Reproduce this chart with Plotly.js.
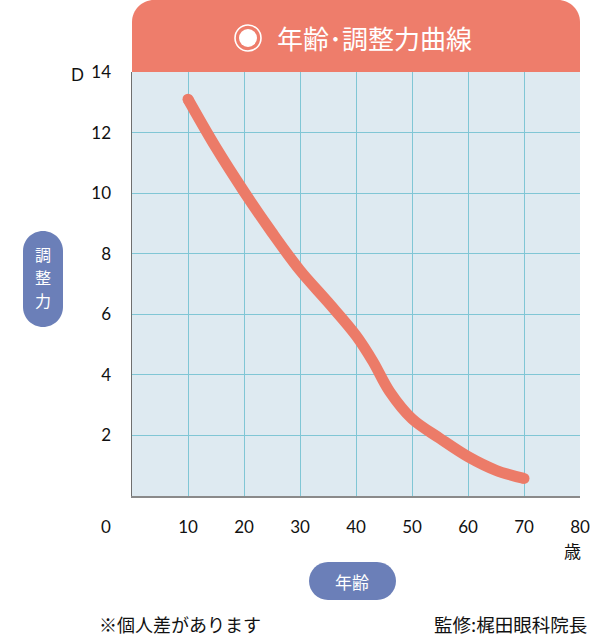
<!DOCTYPE html>
<html>
<head>
<meta charset="utf-8">
<script src="https://cdn.plot.ly/plotly-3.0.1.min.js"></script>
<style>html,body{margin:0;padding:0;background:#fff;}#chart{width:616px;height:638px;}</style>
</head>
<body>
<div id="chart"></div>
<script>
// Data
var ages = [10, 15, 20, 25, 30, 35, 40, 43, 46, 50, 55, 60, 65, 70];
var power = [13.1, 11.5, 10.05, 8.7, 7.45, 6.4, 5.3, 4.45, 3.45, 2.55, 1.9, 1.3, 0.85, 0.58];
var xTicks = [10, 20, 30, 40, 50, 60, 70, 80];
var yTicks = [2, 4, 6, 8, 10, 12, 14];
var titleText = '年齢･調整力曲線';
var yLabelChars = ['調', '整', '力'];
var xLabel = '年齢';
var yUnit = 'D';
var xUnit = '歳';
var originLabel = '0';
var noteLeft = '※個人差があります';
var noteRight = '監修:梶田眼科院長';

// Plot-area geometry (pixels) used only for decorations
var W = 616, H = 638;
var L = 132, R = 580, T = 72, B = 496;
function px(p){ return (p - L) / (R - L); }
function py(p){ return (B - p) / (B - T); }

function roundRectPath(x0, y0, x1, y1, r, topOnly){
  var k = 0.5523 * r;
  var s = '';
  s += 'M ' + px(x0) + ',' + py(y1 - (topOnly ? 0 : r));
  s += ' L ' + px(x0) + ',' + py(y0 + r);
  s += ' C ' + px(x0) + ',' + py(y0 + r - k) + ' ' + px(x0 + r - k) + ',' + py(y0) + ' ' + px(x0 + r) + ',' + py(y0);
  s += ' L ' + px(x1 - r) + ',' + py(y0);
  s += ' C ' + px(x1 - r + k) + ',' + py(y0) + ' ' + px(x1) + ',' + py(y0 + r - k) + ' ' + px(x1) + ',' + py(y0 + r);
  if (topOnly) {
    s += ' L ' + px(x1) + ',' + py(y1);
  } else {
    s += ' L ' + px(x1) + ',' + py(y1 - r);
    s += ' C ' + px(x1) + ',' + py(y1 - r + k) + ' ' + px(x1 - r + k) + ',' + py(y1) + ' ' + px(x1 - r) + ',' + py(y1);
    s += ' L ' + px(x0 + r) + ',' + py(y1);
    s += ' C ' + px(x0 + r - k) + ',' + py(y1) + ' ' + px(x0) + ',' + py(y1 - r + k) + ' ' + px(x0) + ',' + py(y1 - r);
  }
  s += ' Z';
  return s;
}

var coral = '#EE7D6B';
var pill = '#6B7FB8';
var jp = '"Noto Sans CJK JP", sans-serif';
var num = 'Lato, "Noto Sans CJK JP", sans-serif';
var ink = '#111111';

var traces = [
  {
    x: ages, y: power, type: 'scatter', mode: 'lines',
    line: {color: '#EC7B68', width: 11, shape: 'spline', smoothing: 1},
    hoverinfo: 'skip', showlegend: false
  },
  {
    x: [ages[0], ages[ages.length - 1]], y: [power[0], power[power.length - 1]],
    type: 'scatter', mode: 'markers',
    marker: {color: '#EC7B68', size: 11},
    hoverinfo: 'skip', showlegend: false
  }
];

var shapes = [
  {type: 'path', xref: 'paper', yref: 'paper', path: roundRectPath(L, 0, R, T, 22, true),
   fillcolor: coral, line: {width: 0}, layer: 'above'},
  {type: 'circle', xref: 'paper', yref: 'paper', x0: px(235), x1: px(261), y0: py(51), y1: py(25),
   fillcolor: 'rgba(0,0,0,0)', line: {color: '#ffffff', width: 1.6}},
  {type: 'circle', xref: 'paper', yref: 'paper', x0: px(239), x1: px(257), y0: py(47), y1: py(29),
   fillcolor: '#ffffff', line: {width: 0}},
  {type: 'path', xref: 'paper', yref: 'paper', path: roundRectPath(23, 231, 63, 327, 20, false),
   fillcolor: pill, line: {width: 0}},
  {type: 'path', xref: 'paper', yref: 'paper', path: roundRectPath(309, 562, 396, 600, 19, false),
   fillcolor: pill, line: {width: 0}}
];

function ann(text, x, y, size, color, xanchor, family, yanchor){
  return {text: text, xref: 'paper', yref: 'paper', x: px(x), y: py(y),
    xanchor: xanchor || 'center', yanchor: yanchor || 'middle', showarrow: false,
    borderpad: 0,
    font: {family: family || jp, size: size, color: color || ink}};
}

var annotations = [
  ann(titleText, 374, 37, 26, '#ffffff'),
  ann(yLabelChars[0], 43, 254, 16, '#ffffff'),
  ann(yLabelChars[1], 43, 277, 16, '#ffffff'),
  ann(yLabelChars[2], 43, 300, 16, '#ffffff'),
  ann(xLabel, 352, 581, 17, '#ffffff'),
  ann(yUnit, 77, 74, 17, ink, 'center', num),
  ann(xUnit, 572, 550, 17, ink),
  ann(originLabel, 106, 526, 17, ink, 'center', num),
  ann(noteLeft, 98, 638, 18, ink, 'left', jp, 'bottom'),
  ann(noteRight, 588, 638, 18.5, ink, 'right', jp, 'bottom')
];

var layout = {
  width: W, height: H,
  margin: {l: L, r: W - R, t: T, b: H - B, pad: 0},
  paper_bgcolor: '#ffffff',
  plot_bgcolor: '#DEEAF1',
  showlegend: false,
  font: {family: num, size: 17, color: ink},
  xaxis: {
    range: [0, 80], tickmode: 'array', tickvals: xTicks,
    showgrid: true, gridcolor: '#80C6D5', gridwidth: 1,
    zeroline: false, showline: true, linecolor: '#8a8a8a', linewidth: 1.5,
    ticks: '', ticklabelstandoff: 15, tickfont: {family: num, size: 17, color: ink},
    fixedrange: true
  },
  yaxis: {
    range: [0, 14], tickmode: 'array', tickvals: yTicks,
    showgrid: true, gridcolor: '#80C6D5', gridwidth: 1,
    zeroline: false, showline: true, linecolor: '#6f6f6f', linewidth: 1.5,
    ticks: '', ticklabelstandoff: 16, tickfont: {family: num, size: 17, color: ink},
    fixedrange: true
  },
  shapes: shapes,
  annotations: annotations
};

Plotly.newPlot('chart', traces, layout, {displayModeBar: false, staticPlot: true});
</script>
</body>
</html>
